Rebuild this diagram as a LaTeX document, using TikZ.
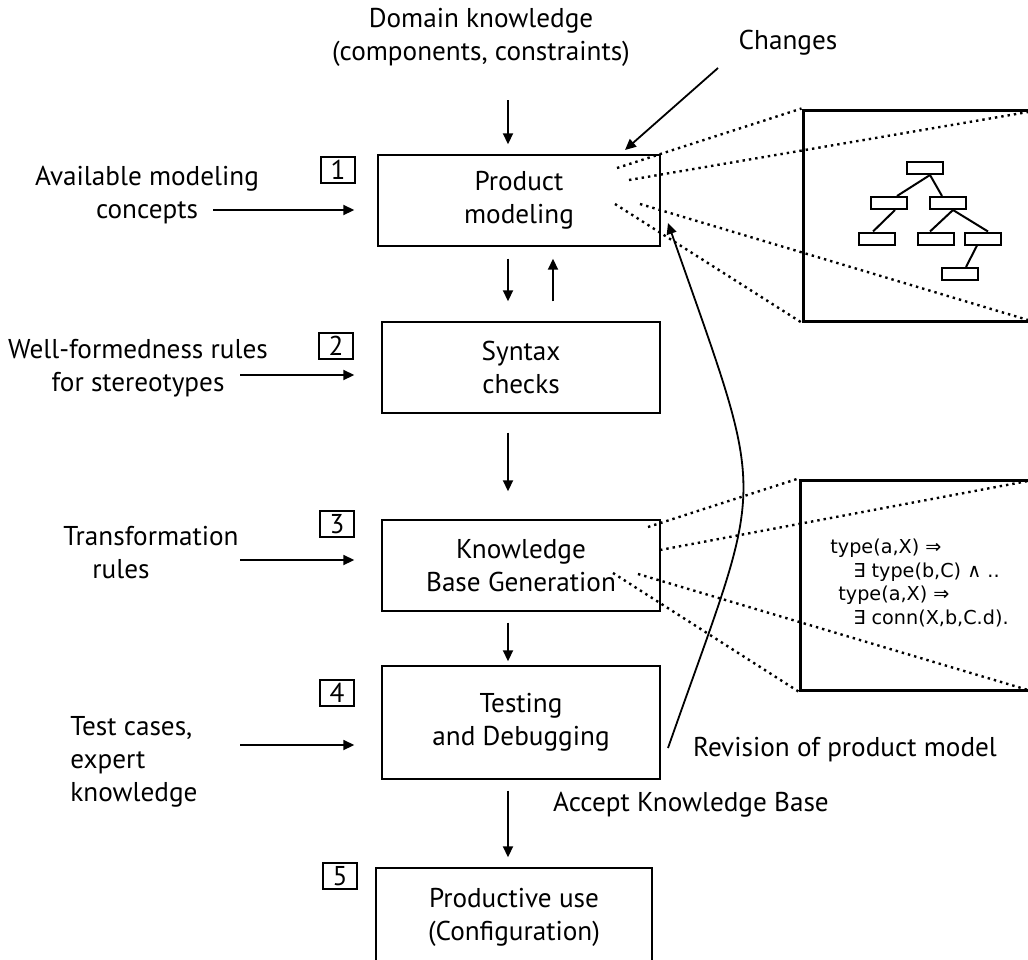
\documentclass[tikz,border=0pt]{standalone}
\usepackage{fontspec}
\setmainfont{PT Sans}
\newfontfamily\rulefont{DejaVu Sans}
\usetikzlibrary{arrows.meta, positioning, calc}
\tikzset{
    stage/.style  ={draw, line width=0.7pt, minimum width=139pt,
                    minimum height=45.5pt, align=center, inner sep=0pt},
    num/.style    ={draw, line width=0.7pt, minimum width=17pt,
                    minimum height=13pt, inner sep=0pt},
    zoombox/.style={draw, line width=1.5pt, inner sep=0pt},
    leaf/.style   ={draw, line width=1pt, minimum width=18pt,
                    minimum height=6pt, inner sep=0pt},
    note/.style   ={align=center, inner sep=0pt},
    ar/.style     ={-{Triangle[length=5.5pt, width=5pt]}, line width=0.9pt},
    dots/.style   ={dotted, line width=1.2pt},
    twig/.style   ={line width=1pt}
}

\begin{document}
\begin{tikzpicture}[x=0.5pt, y=-0.5pt, font=\fontsize{13.6pt}{16.5pt}\selectfont]
  \useasboundingbox (0,0) rectangle (1028,959);

  % process stages
  \node[stage, minimum width=141pt] (model) at (519,200.5) {Product\\modeling};
  \node[stage] (syntax) at (521,367.5) {Syntax\\checks};
  \node[stage] (kbgen)  at (521,565.5) {Knowledge\\Base Generation};
  \node[stage, minimum height=56.5pt] (test) at (521,722.5) {Testing\\and Debugging};
  \node[stage, minimum width=138pt, minimum height=49pt] (prod) at (514,917) {Productive use\\(Configuration)};

  % stage numbers
  \node[num] (n1) at (338,170) {1};
  \node[num] (n2) at (336,346) {2};
  \node[num] (n3) at (337,524) {3};
  \node[num] (n4) at (337,693) {4};
  \node[num] (n5) at (340,876) {5};

  % inputs
  \node[note] (domain) at (481,37) {Domain knowledge\\(components, constraints)};
  \node[note] (changes) at (788,43) {Changes};
  \node[note] (avail) at (147,195) {Available modeling\\concepts};
  \node[note] (wellf) at (138,368) {Well-formedness rules\\for stereotypes};
  \node[note] (trans) at (151,553) {Transformation\\rules\hspace*{30pt}};
  \node[note, align=left, anchor=west] (cases) at (70,762) {Test cases,\\expert\\knowledge};
  \node[note] (accept) at (691,805) {Accept Knowledge Base};
  \node[note] (revis) at (845,750) {Revision of product model};

  \coordinate (c0) at (508,100);
  \coordinate (c1) at (718,68);
  \coordinate (in1) at (213,210);
  \coordinate (in2) at (240,375);
  \coordinate (in3) at (240,560);
  \coordinate (in4) at (240,745);

  \draw[ar, shorten >=5pt] (c0) -- (c0 |- model.north);
  \draw[ar] (c1) -- (625,150);
  \draw[ar, shorten >=11.5pt] (in1) -- (in1 -| model.west);
  \draw[ar, shorten >=13.5pt] (in2) -- (in2 -| syntax.west);
  \draw[ar, shorten >=13.5pt] (in3) -- (in3 -| kbgen.west);
  \draw[ar, shorten >=13.5pt] (in4) -- (in4 -| test.west);

  % stage flow
  \draw[ar, shorten <=6pt, shorten >=10pt] ([xshift=-5.5pt]model.south) -- ([xshift=-6.5pt]syntax.north);
  \draw[ar, shorten <=10pt, shorten >=6pt] ([xshift=16pt]syntax.north) -- ([xshift=17pt]model.south);
  \draw[ar, shorten <=9.5pt, shorten >=14pt] ([xshift=-6.5pt]syntax.south) -- ([xshift=-6.5pt]kbgen.north);
  \draw[ar, shorten <=5.5pt, shorten >=2pt] ([xshift=-6.5pt]kbgen.south) -- ([xshift=-6.5pt]test.north);
  \draw[ar, shorten <=5.5pt, shorten >=5pt] ([xshift=-6.5pt]test.south) -- ([xshift=-3pt]prod.north);

  % revision loop
  \coordinate (r0) at (668,748);
  \draw[ar] (r0) .. controls (766,468) and (770,514) .. (668,223);

  % zoomed views
  \node[zoombox, minimum width=118.5pt, minimum height=105.5pt] (zoomtree) at (921.5,215.5) {};
  \node[zoombox, minimum width=120pt, minimum height=105pt] (zoomrule) at (920,585) {};

  \node[leaf] (t1) at (925,168) {};
  \node[leaf] (t2) at (889,203) {};
  \node[leaf] (t3) at (948,203) {};
  \node[leaf] (t4) at (877,238.5) {};
  \node[leaf] (t5) at (936,238.5) {};
  \node[leaf] (t6) at (983,238.5) {};
  \node[leaf] (t7) at (960,274) {};
  \draw[twig] ([xshift=2.5pt]t1.south) -- ([xshift=4pt]t2.north);
  \draw[twig] ([xshift=2.5pt]t1.south) -- ([xshift=-3pt]t3.north);
  \draw[twig] ([xshift=3pt]t2.south) -- ([xshift=-2pt]t4.north);
  \draw[twig] ([xshift=2.5pt]t3.south) -- ([xshift=-3pt]t5.north);
  \draw[twig] ([xshift=2.5pt]t3.south) -- ([xshift=2.5pt]t6.north);
  \draw[twig] ([xshift=-3pt]t6.south) -- ([xshift=3pt]t7.north);

  \node[note, align=left, anchor=west, font=\rulefont\fontsize{9.6pt}{11.8pt}\selectfont] (rules) at (830,583)
    {type(a,X) ⇒\\
     \hspace*{11.5pt}∃ type(b,C) ∧ ..\\
     \hspace*{4pt}type(a,X) ⇒\\
     \hspace*{11.5pt}∃ conn(X,b,C.d).};

  \coordinate (d1) at (617,168);
  \coordinate (d2) at (629,180);
  \coordinate (d3) at (640,204);
  \coordinate (d4) at (615,204);
  \draw[dots] (d1) -- (zoomtree.north west);
  \draw[dots] (d2) -- (1028,112);
  \draw[dots] (d3) -- (1028,320);
  \draw[dots] (d4) -- (zoomtree.south west);

  \coordinate (e1) at (648,527);
  \coordinate (e2) at (660,550);
  \coordinate (e3) at (638,574);
  \coordinate (e4) at (613,573);
  \draw[dots] (e1) -- (zoomrule.north west);
  \draw[dots] (e2) -- (1028,481);
  \draw[dots] (e3) -- (1028,690);
  \draw[dots] (e4) -- (zoomrule.south west);
\end{tikzpicture}
\end{document}
